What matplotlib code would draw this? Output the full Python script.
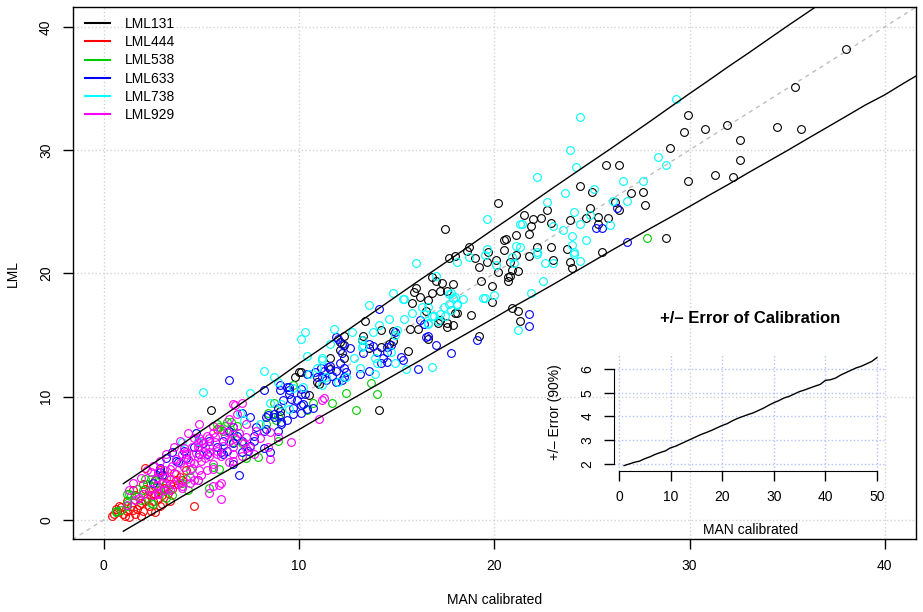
import numpy as np
import matplotlib

matplotlib.use("Agg")
import matplotlib.pyplot as plt
from matplotlib.lines import Line2D

plt.rcParams["font.family"] = ["Liberation Sans", "DejaVu Sans"]
plt.rcParams["font.size"] = 10

# ---- data (MAN calibrated, LML) ----
lml131 = [
    (38.0, 38.2), (35.4, 35.1), (29.9, 32.8), (29.7, 31.5), (30.8, 31.7), (31.9, 32.0),
    (34.5, 31.9), (35.7, 31.7), (32.6, 30.8), (32.6, 29.2), (29.0, 30.2), (29.9, 27.5),
    (31.3, 28.0), (32.2, 27.8), (28.8, 22.9), (25.7, 28.8), (26.4, 28.8), (24.4, 27.1),
    (25.0, 26.6), (27.0, 26.5), (27.6, 26.6), (27.7, 25.5), (22.7, 25.1), (24.9, 25.3),
    (25.3, 24.6), (24.7, 24.5), (25.8, 24.5), (26.2, 25.8), (26.4, 25.1), (23.9, 24.3),
    (25.3, 24.0), (22.9, 24.1), (22.0, 24.4), (22.4, 24.5), (21.5, 24.7), (21.9, 23.8),
    (21.8, 23.2), (21.1, 23.1), (20.6, 22.8), (20.5, 21.9), (22.2, 22.1), (22.9, 22.1),
    (23.7, 22.0), (21.8, 21.4), (21.1, 21.5), (23.0, 21.1), (23.9, 20.9), (24.0, 20.4),
    (20.8, 20.9), (20.9, 20.3), (21.2, 20.2), (20.7, 19.7), (20.7, 19.4), (25.5, 21.7),
    (20.2, 25.7), (17.5, 23.6), (20.5, 22.7), (18.7, 22.1), (18.6, 21.8), (18.0, 21.4),
    (17.7, 21.2), (19.0, 21.2), (19.7, 21.7), (19.6, 20.9), (20.1, 21.1), (19.2, 20.5),
    (20.2, 20.1), (20.8, 19.8), (19.3, 19.4), (19.9, 19.0), (16.8, 19.7), (17.0, 19.4),
    (17.3, 19.2), (17.9, 19.1), (17.2, 18.6), (16.8, 18.4), (17.6, 18.6), (16.2, 18.1),
    (16.6, 17.8), (19.9, 17.7), (18.8, 16.6), (18.1, 16.8), (17.2, 16.2), (17.6, 16.0),
    (17.9, 15.8), (17.6, 15.6), (20.9, 17.2), (21.2, 16.9), (21.3, 16.1), (19.2, 14.9),
    (16.6, 14.7), (16.0, 18.8), (15.9, 18.5), (15.8, 17.6), (16.5, 16.9), (18.0, 16.8),
    (17.1, 16.0), (15.7, 15.5), (16.1, 15.5), (13.4, 16.1), (14.2, 15.4), (14.8, 15.3),
    (12.3, 14.9), (12.1, 14.4), (12.1, 13.8), (13.3, 14.9), (13.2, 14.6), (14.2, 14.0),
    (14.6, 14.3), (14.8, 14.5), (13.6, 13.9), (15.6, 13.7), (11.6, 13.1), (10.1, 12.0),
    (11.6, 12.2), (5.5, 8.9), (12.3, 13.1), (12.3, 14.2), (10.9, 11.2), (10.5, 10.1),
    (9.0, 8.8), (14.1, 8.9), (9.8, 11.6), (11.0, 11.0), (10.0, 12.0),
]

lml444 = [
    (0.4, 0.3), (0.7, 0.6), (0.9, 1.0), (1.1, 0.3), (1.2, 0.7), (1.4, 1.1), (1.6, 0.5),
    (1.7, 0.9), (1.9, 1.4), (2.0, 0.7), (2.1, 1.5), (2.3, 1.1), (2.4, 2.0), (2.5, 1.5),
    (2.6, 2.1), (2.8, 1.7), (2.9, 2.4), (3.0, 2.0), (3.1, 2.6), (3.3, 2.2), (3.4, 2.9),
    (3.5, 2.5), (3.7, 3.2), (3.8, 2.9), (3.9, 3.5), (3.6, 3.8), (3.1, 3.6), (2.6, 3.2),
    (2.1, 2.5), (1.6, 2.0), (1.2, 1.5), (0.8, 1.1), (2.4, 0.7), (2.9, 1.1), (3.4, 1.5),
    (2.6, 0.6), (1.9, 0.3), (1.3, 0.2), (2.1, 4.2), (2.9, 4.0), (4.2, 4.0), (4.0, 3.2),
    (0.6, 0.9), (1.5, 2.4), (2.0, 2.9), (4.6, 1.1), (5.8, 7.4), (1.0, 0.5), (1.5, 0.8),
    (2.2, 1.8), (2.7, 2.7), (3.2, 3.0), (1.8, 1.2), (0.5, 0.5), (3.0, 1.3), (2.3, 2.3),
]

lml538 = [
    (27.8, 22.9), (13.7, 11.1), (12.4, 10.3), (14.0, 10.2), (12.9, 8.9), (11.7, 9.5),
    (10.7, 9.5), (10.4, 8.9), (8.9, 8.4), (8.8, 8.1), (8.3, 7.8), (6.8, 7.6), (6.1, 7.2),
    (5.9, 7.5), (8.9, 6.4), (7.9, 5.1), (1.2, 2.1), (2.1, 3.3), (2.5, 1.3), (5.8, 7.8),
    (6.3, 7.9), (4.8, 6.3), (6.6, 6.3), (7.1, 6.2), (8.7, 9.5), (9.7, 10.9), (5.6, 4.3),
    (5.4, 2.6), (4.2, 3.3), (1.2, 1.1), (0.6, 0.6), (0.6, 0.7), (1.2, 1.4), (2.2, 2.9),
    (2.4, 1.4), (3.2, 1.8), (4.3, 2.4), (4.0, 3.0), (6.2, 7.6), (5.9, 4.1), (1.7, 2.5),
    (1.4, 2.0), (4.8, 3.2), (6.5, 7.9), (6.6, 7.0), (7.3, 5.0), (3.5, 2.0), (2.8, 2.4),
    (1.9, 1.6), (0.9, 0.8), (2.6, 3.2), (1.3, 2.1), (2.0, 2.4), (2.9, 3.2), (3.2, 2.5),
    (2.4, 3.3), (4.4, 4.0), (6.4, 7.2), (8.4, 8.7),
]

lml633 = [
    (25.5, 23.7), (26.3, 25.3), (26.8, 22.5), (21.8, 16.7), (21.8, 15.7), (25.2, 23.7),
    (16.6, 14.9), (19.1, 14.6), (14.1, 17.1), (16.2, 16.2), (16.4, 15.9), (16.5, 14.8),
    (17.0, 14.2), (16.1, 12.2), (11.9, 14.8), (12.0, 14.7), (13.6, 14.3), (13.8, 14.1),
    (14.5, 14.0), (14.7, 14.2), (14.5, 13.6), (14.3, 13.1), (14.5, 12.8), (14.2, 12.7),
    (14.0, 13.6), (15.2, 13.2), (15.3, 13.0), (13.3, 13.5), (12.6, 13.9), (12.1, 12.7),
    (12.3, 12.3), (11.1, 12.3), (10.8, 12.0), (11.3, 12.1), (11.5, 12.4), (13.6, 12.1),
    (13.1, 11.8), (12.3, 11.6), (11.7, 11.7), (10.9, 11.6), (11.2, 11.6), (6.4, 11.3),
    (10.4, 11.8), (11.4, 11.3), (11.9, 11.2), (12.2, 11.3), (11.6, 12.5), (12.2, 14.3),
    (12.2, 13.5), (11.9, 12.1), (12.4, 12.0), (9.4, 10.8), (9.0, 10.5), (9.5, 10.2),
    (9.6, 9.8), (10.1, 10.6), (10.3, 10.2), (9.9, 9.7), (10.2, 9.4), (9.2, 9.7), (9.7, 9.1),
    (8.9, 9.1), (8.3, 8.3), (8.7, 8.3), (9.0, 8.5), (9.4, 8.1), (9.7, 8.6), (10.1, 8.7),
    (10.4, 9.0), (10.7, 9.1), (7.1, 8.7), (7.5, 8.3), (7.8, 7.5), (8.3, 7.4), (8.9, 7.2),
    (9.1, 7.8), (6.6, 7.5), (6.8, 6.8), (6.4, 7.2), (6.1, 6.4), (5.4, 6.4), (5.8, 5.9),
    (5.1, 6.2), (6.3, 5.6), (7.1, 6.4), (7.7, 6.4), (8.2, 5.8), (7.4, 5.6), (4.7, 7.0),
    (3.2, 5.0), (6.9, 3.6), (8.5, 5.5), (8.4, 8.5), (8.2, 10.5), (9.5, 10.8), (10.1, 9.3),
    (2.9, 4.2), (3.8, 4.7), (6.1, 5.3), (6.6, 4.5), (17.8, 13.5), (14.9, 15.2), (4.1, 5.6),
    (4.9, 5.3), (3.5, 5.5), (4.2, 5.0), (2.5, 3.0), (3.0, 3.6), (9.0, 10.9), (9.5, 10.5),
    (10.1, 10.2), (8.7, 8.6), (9.1, 7.9), (8.2, 7.2), (7.7, 6.8), (7.5, 6.0), (7.1, 5.5),
    (6.6, 6.2), (6.0, 5.5), (5.3, 5.3), (4.6, 5.9), (3.7, 4.8), (2.9, 3.9),
]

lml738 = [
    (29.3, 34.1), (24.4, 32.7), (23.9, 30.0), (24.2, 28.6), (22.2, 27.8), (23.6, 26.5),
    (22.7, 25.8), (25.1, 26.8), (24.1, 25.0), (26.6, 27.5), (27.6, 27.5), (28.4, 29.4),
    (28.8, 28.8), (26.1, 25.9), (26.8, 25.9), (23.0, 23.8), (23.5, 23.5), (24.4, 24.0),
    (24.9, 24.7), (25.9, 23.9), (21.4, 24.0), (24.0, 23.0), (24.7, 22.7), (24.0, 22.3),
    (21.1, 22.2), (21.3, 22.1), (22.2, 21.6), (24.1, 21.6), (24.4, 21.0), (22.6, 20.8),
    (23.0, 20.8), (20.9, 21.3), (21.0, 20.8), (22.5, 19.4), (21.9, 18.4), (21.3, 24.0),
    (19.6, 24.4), (19.6, 22.0), (19.5, 21.5), (18.7, 21.3), (18.1, 20.9), (22.2, 21.7),
    (24.1, 21.7), (20.1, 20.7), (21.2, 15.4), (19.4, 18.0), (19.5, 18.0), (20.0, 18.2),
    (17.0, 19.8), (18.4, 17.9), (18.1, 17.5), (18.0, 18.1), (17.7, 18.3), (17.4, 17.3),
    (17.2, 16.7), (16.9, 16.5), (16.6, 16.0), (16.3, 17.3), (16.4, 16.7), (17.5, 16.5),
    (17.8, 17.0), (16.0, 20.8), (17.7, 17.5), (17.8, 18.4), (17.9, 18.0), (18.1, 17.4),
    (16.6, 17.3), (14.8, 18.4), (15.3, 17.9), (15.8, 16.8), (15.4, 16.3), (16.8, 16.5),
    (17.1, 16.1), (16.6, 15.9), (14.6, 16.3), (14.1, 15.8), (13.6, 17.4), (13.8, 15.2),
    (11.8, 15.5), (12.7, 15.2), (13.2, 14.6), (13.3, 14.2), (13.2, 14.0), (15.0, 15.4),
    (14.9, 15.0), (10.3, 15.2), (10.1, 14.7), (12.8, 13.1), (14.7, 13.6), (14.9, 12.7),
    (13.9, 13.1), (14.0, 12.7), (13.1, 12.3), (11.2, 13.1), (10.9, 12.3), (16.8, 12.4),
    (15.5, 12.2), (13.9, 11.8), (15.4, 17.9), (11.6, 14.3), (10.4, 13.3), (11.2, 13.0),
    (8.2, 12.1), (8.7, 11.6), (9.7, 10.7), (10.2, 10.8), (5.1, 10.4), (8.9, 11.2),
    (7.5, 10.3), (10.5, 11.8), (8.5, 9.5), (9.1, 9.4), (7.0, 8.7), (7.2, 8.1), (8.0, 7.8),
    (9.5, 9.0), (11.4, 11.6), (12.0, 11.2), (11.2, 10.9), (12.4, 11.6), (4.0, 6.3),
    (4.8, 6.4),
]

lml929 = [
    (2.4, 3.9), (2.8, 3.9), (3.1, 4.0), (3.5, 4.4), (3.7, 4.9), (4.0, 5.3), (4.2, 5.5),
    (4.5, 5.9), (4.8, 6.2), (4.9, 6.6), (5.3, 6.8), (5.6, 7.0), (6.0, 7.4), (6.3, 7.1),
    (6.6, 7.5), (5.4, 6.0), (5.1, 5.5), (4.8, 5.1), (4.4, 4.7), (4.1, 4.3), (3.7, 3.7),
    (3.4, 3.3), (3.0, 3.0), (2.7, 2.8), (2.4, 2.5), (2.0, 2.1), (4.0, 2.6), (4.4, 3.0),
    (4.9, 4.0), (5.3, 4.0), (5.6, 4.5), (5.8, 5.3), (6.1, 6.0), (6.4, 6.4), (6.7, 6.6),
    (4.9, 7.8), (4.3, 7.0), (3.9, 6.4), (3.6, 5.9), (3.2, 5.3), (2.9, 4.8), (2.5, 4.4),
    (2.2, 4.0), (1.9, 3.4), (1.5, 3.0), (1.3, 2.4), (1.8, 1.8), (2.5, 2.0), (3.1, 2.4),
    (3.6, 2.9), (5.9, 2.8), (5.4, 2.2), (6.0, 1.7), (5.6, 2.7), (6.0, 3.0), (8.5, 4.9),
    (9.6, 6.3), (6.6, 9.4), (6.6, 4.8), (11.2, 9.7), (11.3, 9.9), (11.0, 8.2), (8.5, 7.1),
    (8.9, 6.7), (6.4, 8.2), (5.7, 6.7), (5.2, 5.9), (5.0, 6.4), (5.4, 5.2), (7.3, 6.7),
    (7.5, 5.9), (6.6, 5.9), (7.1, 5.2), (7.7, 5.3), (6.6, 5.3), (6.7, 9.3), (7.1, 9.5),
    (5.4, 6.6), (5.7, 6.3), (4.8, 5.9), (5.8, 5.6), (6.0, 5.2), (4.2, 5.3), (4.1, 5.8),
    (6.9, 7.0), (7.2, 6.2), (4.85, 3.2), (4.4, 3.5), (3.9, 3.0), (3.3, 2.6), (2.8, 2.2),
    (1.6, 1.6), (1.2, 1.2), (4.6, 4.6), (4.3, 4.9), (5.0, 4.8), (4.7, 5.4), (3.4, 4.1),
    (3.9, 4.6), (5.2, 5.0), (4.5, 4.2), (3.2, 3.4), (2.7, 3.4), (4.6, 6.6), (5.6, 7.6),
    (6.2, 6.8), (6.8, 8.6), (7.3, 7.8), (7.8, 7.2), (8.0, 6.6), (8.4, 5.9), (7.3, 5.8),
    (6.4, 4.7), (5.6, 4.1), (5.0, 3.6), (4.6, 3.2), (4.0, 2.7), (3.4, 2.4), (2.8, 2.1),
    (5.4, 5.5),
]

series_names = ["LML131", "LML444", "LML538", "LML633", "LML738", "LML929"]
series_data = [lml131, lml444, lml538, lml633, lml738, lml929]
series_colors = ["black", "#FF0000", "#00CD00", "#0000FF", "#00FFFF", "#FF00FF"]

# +/- error (90%) of the calibration, per MAN value
err_x = np.arange(1, 51)
err_y = [
    1.93, 2.00, 2.07, 2.12, 2.22, 2.30, 2.40, 2.48, 2.55, 2.68,
    2.75, 2.85, 2.95, 3.05, 3.15, 3.25, 3.33, 3.42, 3.52, 3.62,
    3.70, 3.82, 3.92, 4.00, 4.08, 4.15, 4.25, 4.35, 4.47, 4.58,
    4.67, 4.78, 4.85, 4.95, 5.05, 5.12, 5.20, 5.28, 5.35, 5.52,
    5.55, 5.62, 5.75, 5.85, 5.95, 6.05, 6.12, 6.22, 6.32, 6.48,
]

# ---- main plot ----
fig = plt.figure(figsize=(9.23, 6.12), dpi=100)
ax = fig.add_axes([0.0786, 0.1185, 0.9139, 0.870])
ax.set_xlim(-1.6, 41.6)
ax.set_ylim(-1.6, 41.6)
ax.set_xticks([0, 10, 20, 30, 40])
ax.set_yticks([0, 10, 20, 30, 40])
ax.grid(True, color="#d3d3d3", ls=":", lw=1)
ax.set_axisbelow(True)

ax.axline((0, 0), slope=1, color="#bebebe", ls=(0, (3, 3)), lw=1)

for data, col in zip(series_data, series_colors):
    pts = np.array(data)
    ax.plot(pts[:, 0], pts[:, 1], "o", mfc="none", mec=col, mew=0.8, ms=5.6)

err = np.array(err_y)
ax.plot(err_x, err_x + err, color="black", lw=1)
ax.plot(err_x, err_x - err, color="black", lw=1)

for sp in ax.spines.values():
    sp.set_linewidth(1)
ax.tick_params(length=7, width=1, pad=7)
ax.tick_params(axis="y", labelrotation=90)
for lab in ax.get_yticklabels():
    lab.set_va("center")

ax.set_xlabel("MAN calibrated")
ax.xaxis.set_label_coords(0.5, -0.101)
ax.set_ylabel("LML")
ax.yaxis.set_label_coords(-0.062, 0.5)

handles = [Line2D([], [], color=c, lw=1.5) for c in series_colors]
ax.legend(handles, series_names, loc="upper left", bbox_to_anchor=(0.0148, 0.981),
          frameon=False, borderpad=0, borderaxespad=0, handlelength=1.8,
          handletextpad=1.1, labelspacing=0.3)

# ---- inset: error of calibration ----
axi = fig.add_axes([0.6652, 0.2309, 0.2958, 0.1926])
axi.patch.set_alpha(0)
axi.plot(err_x, err_y, color="black", lw=1)
axi.set_xlim(-0.96, 51.96)
axi.set_ylim(1.716, 6.684)
axi.set_xticks([0, 10, 20, 30, 40, 50])
axi.set_yticks([2, 3, 4, 5, 6])
axi.grid(True, color="#b4c0ff", ls=":", lw=1)
axi.spines["top"].set_visible(False)
axi.spines["right"].set_visible(False)
axi.spines["left"].set_bounds(2, 6)
axi.spines["bottom"].set_bounds(0, 50)
axi.tick_params(length=7, width=1, pad=7)
axi.tick_params(axis="y", labelrotation=90)
for lab in axi.get_yticklabels():
    lab.set_va("center")
axi.set_xlabel("MAN calibrated")
axi.xaxis.set_label_coords(0.5, -0.44)
axi.set_ylabel("+/\u2013 Error (90%)")
axi.yaxis.set_label_coords(-0.19, 0.5)
axi.text(0.5, 1.295, "+/\u2013 Error of Calibration", transform=axi.transAxes,
         ha="center", va="center", fontsize=12, fontweight="bold")

fig.savefig("out.png", dpi=100)
